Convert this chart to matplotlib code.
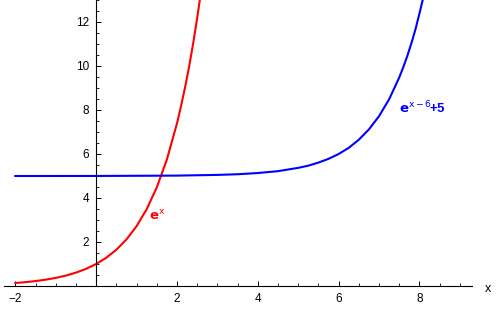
import matplotlib
matplotlib.use('Agg')
import matplotlib.pyplot as plt
from matplotlib.ticker import MultipleLocator, FixedLocator

# values
red_x = [-2, -1.75, -1.5, -1.25, -1, -0.75, -0.5, -0.25, 0, 0.25, 0.5, 0.75, 1,
         1.25, 1.5, 1.75, 2, 2.1, 2.2, 2.3, 2.4, 2.5, 2.565]
red_y = [0.135, 0.174, 0.223, 0.287, 0.368, 0.472, 0.607, 0.779, 1.0, 1.284, 1.649,
         2.117, 2.718, 3.49, 4.48, 5.75, 7.39, 8.17, 9.03, 9.97, 11.02, 12.18, 13.0]
blue_x = [-2, 0, 2, 3, 3.5, 4, 4.5, 5, 5.25, 5.5, 5.75, 6, 6.25, 6.5, 6.75, 7,
          7.25, 7.5, 7.6, 7.7, 7.8, 7.9, 8, 8.08]
blue_y = [5.0, 5.002, 5.018, 5.05, 5.08, 5.135, 5.22, 5.37, 5.47, 5.61, 5.78, 6.0,
          6.28, 6.65, 7.12, 7.72, 8.49, 9.48, 9.95, 10.46, 11.03, 11.66, 12.39, 13.0]
x_ticks = [-2, 2, 4, 6, 8]
y_ticks = [2, 4, 6, 8, 10, 12]

plt.rcParams['font.family'] = ['Liberation Sans', 'DejaVu Sans']
fig = plt.figure(figsize=(5, 3.09), dpi=100)
ax = fig.add_axes([4/500, 23/309, 468/500, 286/309])
ax.plot(red_x, red_y, color='#ff0000', lw=1.5, clip_on=True)
ax.plot(blue_x, blue_y, color='#0000ff', lw=1.5, clip_on=True)
ax.set_xlim(-2.28, 9.3)
ax.set_ylim(0, 13)

ax.spines['left'].set_position(('data', 0))
ax.spines['bottom'].set_position(('data', 0))
ax.spines['top'].set_visible(False)
ax.spines['right'].set_visible(False)
for s in ['left', 'bottom']:
    ax.spines[s].set_linewidth(0.8)

ax.xaxis.set_major_locator(FixedLocator(x_ticks))
ax.yaxis.set_major_locator(FixedLocator(y_ticks))
ax.xaxis.set_minor_locator(MultipleLocator(0.5))
ax.yaxis.set_minor_locator(MultipleLocator(0.5))
ax.tick_params(which='major', direction='in', length=3.5, width=0.7, labelsize=8.5, pad=5)
ax.tick_params(which='minor', direction='in', length=2, width=0.6)
ax.set_xticklabels([str(t).replace('-', '\u2212') for t in x_ticks])
ax.set_yticklabels([str(t) for t in y_ticks])

ax.text(1.3, 3.0, r'$\mathbf{e}^{\mathrm{x}}$', color='#ff0000', fontsize=9.5,
        fontweight='bold')
ax.text(7.5, 7.85, r'$\mathbf{e}^{\mathrm{x-6}}\!$+5', color='#0000ff', fontsize=9.5,
        fontweight='bold')
fig.text(488/500, 1 - 289/309, 'x', fontsize=9, ha='center', va='center')

fig.savefig('out.png', dpi=100)
